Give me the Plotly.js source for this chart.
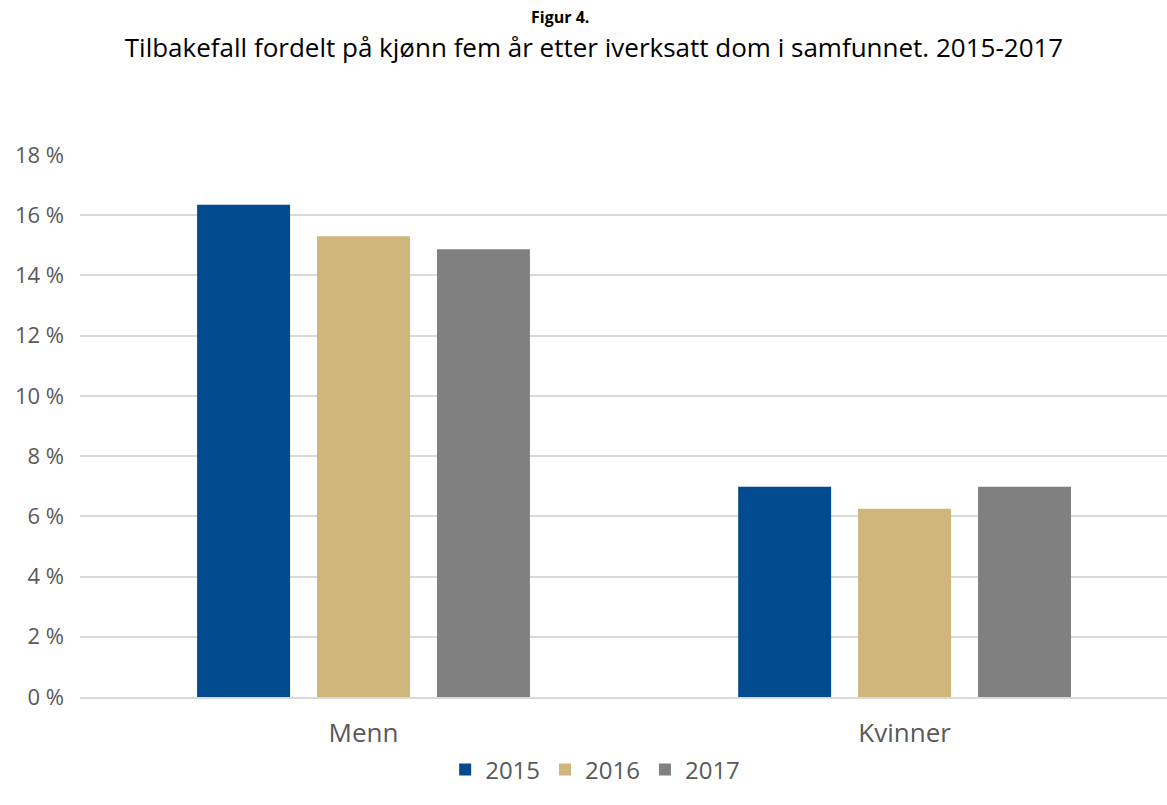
<!DOCTYPE html>
<html>
<head>
<meta charset="utf-8">
<script src="https://cdn.plot.ly/plotly-3.0.1.min.js"></script>
<style>html,body{margin:0;padding:0;background:#fff;}#chart{width:1167px;height:805px;}</style>
</head>
<body>
<div id="chart"></div>
<script>
const categories = ["Menn", "Kvinner"];
const years = ["2015", "2016", "2017"];
const values2015 = [16.35, 6.98];
const values2016 = [15.3, 6.25];
const values2017 = [14.87, 6.98];
const colors = ["#004A8D", "#CFB67A", "#808080"];
const tickVals = [0, 2, 4, 6, 8, 10, 12, 14, 16, 18];

const series = [values2015, values2016, values2017];
const data = series.map((vals, i) => ({
  type: "bar",
  name: years[i],
  x: categories,
  y: vals,
  marker: {color: colors[i]},
  hoverinfo: "skip"
}));

const layout = {
  width: 1167, height: 805,
  margin: {l: 80, r: 0, t: 155, b: 108},
  paper_bgcolor: "#ffffff",
  plot_bgcolor: "#ffffff",
  font: {family: "Open Sans, Noto Sans, sans-serif", color: "#595959"},
  title: {
    text: "Tilbakefall fordelt på kjønn fem år etter iverksatt dom i samfunnet. 2015-2017",
    x: 594 / 1167, xref: "container", xanchor: "center",
    y: 1 - 48 / 805, yref: "container", yanchor: "middle",
    font: {family: "Open Sans, Noto Sans, sans-serif", color: "#000000", size: 26}
  },
  annotations: [{
    text: "<b>Figur 4.</b>",
    xref: "paper", yref: "paper",
    x: (560 - 80) / 1087, xanchor: "center",
    y: 1 + (155 - 17) / 542, yanchor: "middle",
    showarrow: false,
    font: {family: "Open Sans, Noto Sans, sans-serif", color: "#000000", size: 16}
  }],
  barmode: "group",
  bargap: 0.335,
  bargroupgap: 0.225,
  xaxis: {
    type: "category",
    range: [-0.524, 1.485],
    tickfont: {size: 26, color: "#595959"},
    ticklabelstandoff: 12,
    showline: true, linecolor: "#d9d9d9", linewidth: 2,
    ticks: "", showgrid: false, fixedrange: true
  },
  yaxis: {
    range: [0, 18],
    tickvals: tickVals,
    ticktext: tickVals.map(v => v + " %"),
    tickfont: {size: 22, color: "#595959"},
    ticklabelstandoff: 15,
    showgrid: true, gridcolor: "#d9d9d9", gridwidth: 2,
    zeroline: false, showline: false, ticks: "", fixedrange: true
  },
  showlegend: true,
  legend: {
    orientation: "h",
    xref: "container", x: 0.51, xanchor: "center",
    yref: "container", y: 1 - 770 / 805, yanchor: "middle",
    font: {size: 24, color: "#595959"},
    itemwidth: 30,
    tracegroupgap: 0
  }
};

Plotly.newPlot("chart", data, layout, {displayModeBar: false, staticPlot: true});
</script>
</body>
</html>
